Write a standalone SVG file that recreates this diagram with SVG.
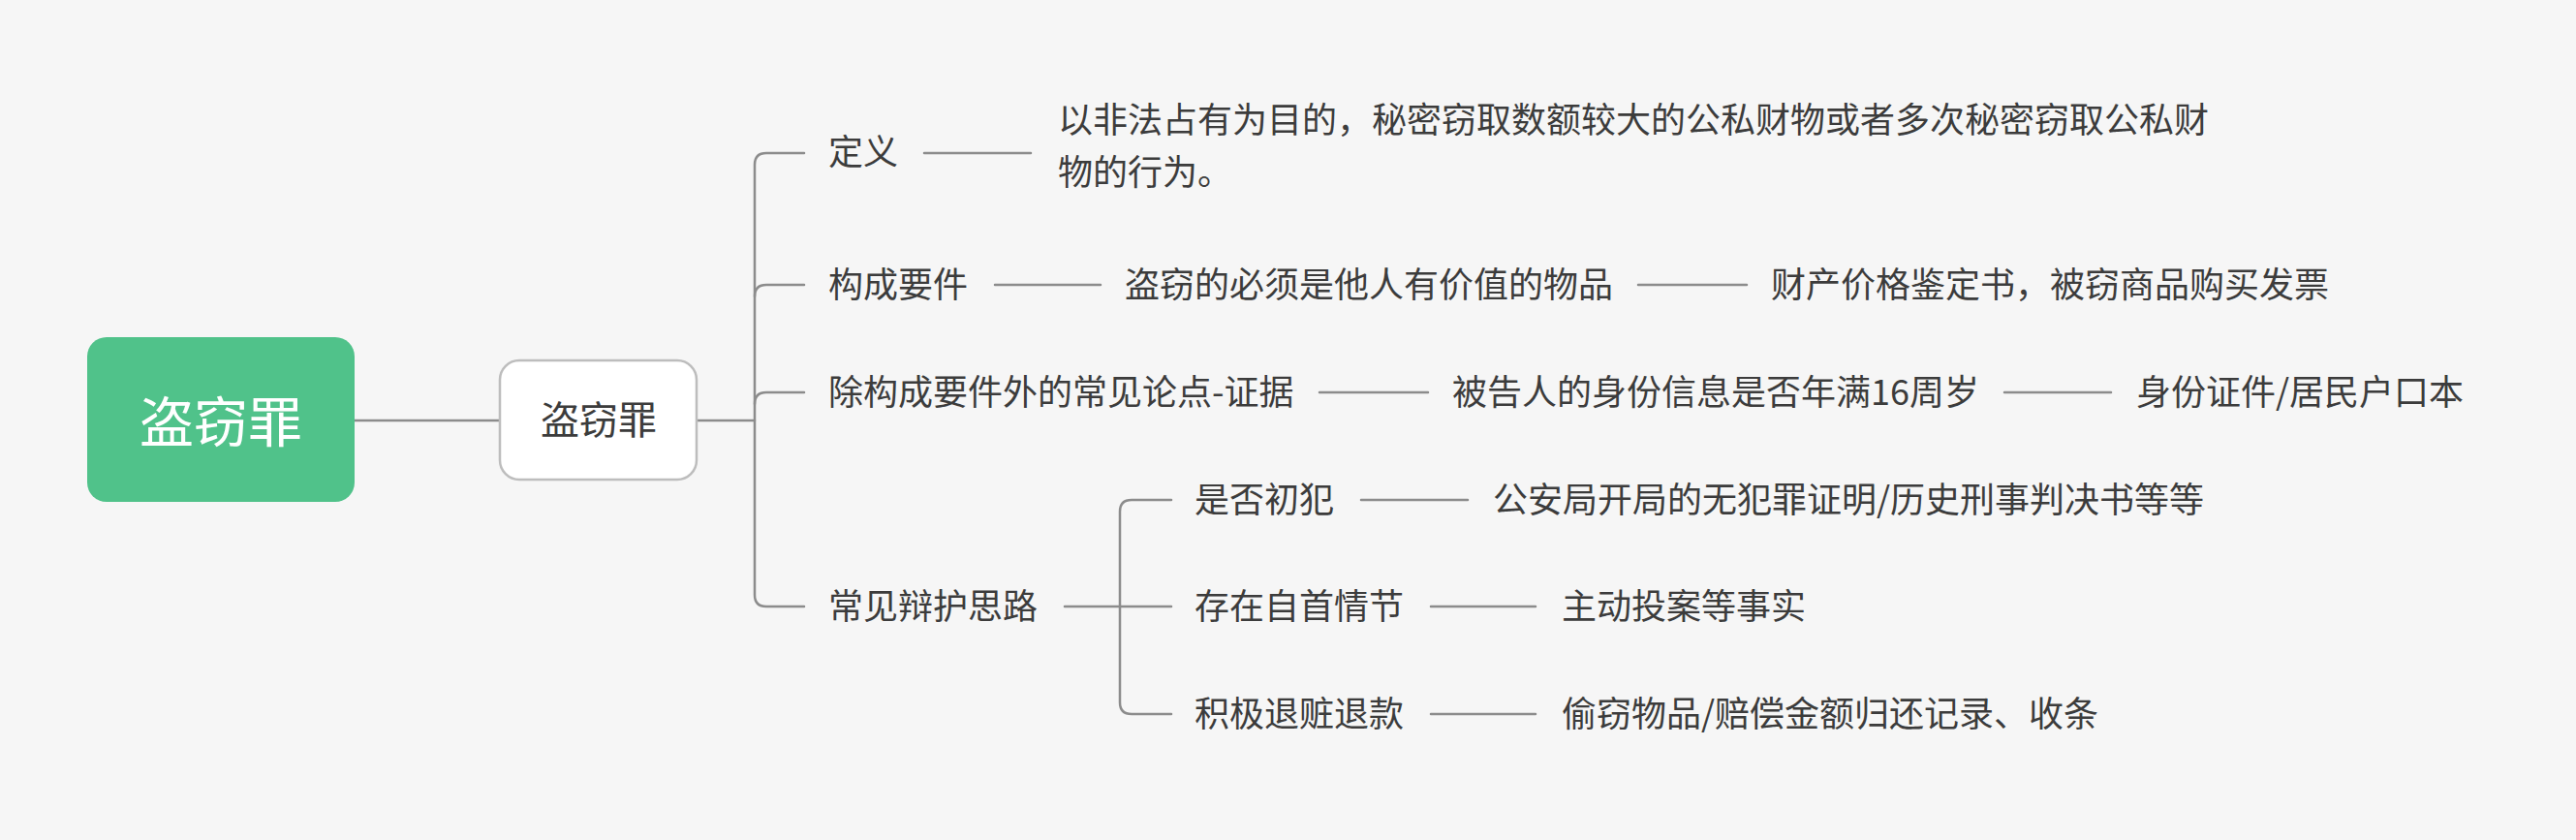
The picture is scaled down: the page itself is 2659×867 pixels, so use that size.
<svg xmlns="http://www.w3.org/2000/svg" width="2659" height="867" viewBox="0 0 2659 867">
<style>
.t{font-family:"Noto Sans CJK SC","Noto Sans",sans-serif;font-size:36px;fill:#3c3c3c}
.c{fill:none;stroke:#8c8c8c;stroke-width:2.5;stroke-linecap:round}
</style>
<rect width="2659" height="867" fill="#f6f6f6"/>
<g id="connectors" class="c">
<path d="M366 434 H515"/>
<path d="M719 434 H779"/>
<path d="M830 158 H791 Q779 158 779 170 V614 Q779 626 791 626 H830"/>
<path d="M779 306 Q779 294 791 294 H830"/>
<path d="M779 417 Q779 405 791 405 H830"/>
<path d="M954 158 H1064"/>
<path d="M1027 294 H1136"/>
<path d="M1691 294 H1803"/>
<path d="M1362 405 H1474"/>
<path d="M2069 405 H2179"/>
<path d="M1099 626 H1209"/>
<path d="M1209 516 H1168 Q1156 516 1156 528 V725 Q1156 737 1168 737 H1209"/>
<path d="M1405 516 H1515"/>
<path d="M1477 626 H1585"/>
<path d="M1477 737 H1585"/>
</g>
<g id="root">
<rect x="90" y="348" width="276" height="170" rx="20" fill="#50c28a"/>
<text x="228" y="456" text-anchor="middle" font-family="Noto Sans CJK SC, sans-serif" font-size="56" fill="#ffffff">盗窃罪</text>
</g>
<g id="main">
<rect x="516" y="372" width="203" height="123" rx="20" fill="#ffffff" stroke="#bdbdbd" stroke-width="2.5"/>
<text x="618" y="448" text-anchor="middle" font-family="Noto Sans CJK SC, sans-serif" font-size="40" fill="#3c3c3c">盗窃罪</text>
</g>
<g id="n-def"><text class="t" x="855" y="170">定义</text></g>
<g id="n-def-text">
<text class="t" x="1092" y="137">以非法占有为目的，秘密窃取数额较大的公私财物或者多次秘密窃取公私财</text>
<text class="t" x="1092" y="191">物的行为。</text>
</g>
<g id="n-gc"><text class="t" x="855" y="307">构成要件</text></g>
<g id="n-gc1"><text class="t" x="1161" y="307">盗窃的必须是他人有价值的物品</text></g>
<g id="n-gc2"><text class="t" x="1828" y="307">财产价格鉴定书，被窃商品购买发票</text></g>
<g id="n-cj"><text class="t" x="855" y="418">除构成要件外的常见论点-证据</text></g>
<g id="n-cj1"><text class="t" x="1499" y="418">被告人的身份信息是否年满16周岁</text></g>
<g id="n-cj2"><text class="t" x="2205" y="418">身份证件/居民户口本</text></g>
<g id="n-bh"><text class="t" x="855" y="639">常见辩护思路</text></g>
<g id="n-bh1"><text class="t" x="1233" y="529">是否初犯</text></g>
<g id="n-bh1a"><text class="t" x="1541" y="529">公安局开局的无犯罪证明/历史刑事判决书等等</text></g>
<g id="n-bh2"><text class="t" x="1233" y="639">存在自首情节</text></g>
<g id="n-bh2a"><text class="t" x="1612" y="639">主动投案等事实</text></g>
<g id="n-bh3"><text class="t" x="1233" y="750">积极退赃退款</text></g>
<g id="n-bh3a"><text class="t" x="1612" y="750">偷窃物品/赔偿金额归还记录、收条</text></g>
</svg>
